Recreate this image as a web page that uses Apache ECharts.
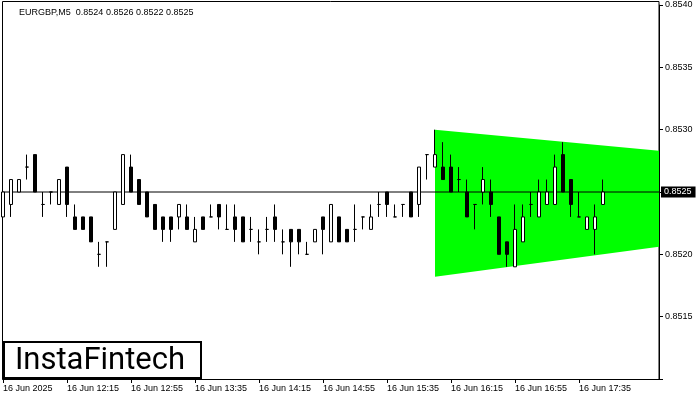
<!DOCTYPE html>
<html>
<head>
<meta charset="utf-8">
<script src="https://cdn.jsdelivr.net/npm/echarts@6/dist/echarts.min.js"></script>
<style>html,body{margin:0;padding:0;background:#fff}#c{width:700px;height:400px}</style>
</head>
<body>
<div id="c"></div>
<script>
const categories = ["11:35","11:40","11:45","11:50","11:55","12:00","12:05","12:10","12:15","12:20","12:25","12:30","12:35","12:40","12:45","12:50","12:55","13:00","13:05","13:10","13:15","13:20","13:25","13:30","13:35","13:40","13:45","13:50","13:55","14:00","14:05","14:10","14:15","14:20","14:25","14:30","14:35","14:40","14:45","14:50","14:55","15:00","15:05","15:10","15:15","15:20","15:25","15:30","15:35","15:40","15:45","15:50","15:55","16:00","16:05","16:10","16:15","16:20","16:25","16:30","16:35","16:40","16:45","16:50","16:55","17:00","17:05","17:10","17:15","17:20","17:25","17:30","17:35","17:40","17:45","17:50","17:55","18:00","18:05","18:10","18:15","18:20","18:25"];
const xTickLabels = ["16 Jun 2025","16 Jun 12:15","16 Jun 12:55","16 Jun 13:35","16 Jun 14:15","16 Jun 14:55","16 Jun 15:35","16 Jun 16:15","16 Jun 16:55","16 Jun 17:35"];
const opens  = [0.8523,0.8524,0.8525,0.8527,0.8528,0.8524,0.8525,0.8524,0.8527,0.8523,0.8523,0.8523,0.8520,0.8521,0.8522,0.8524,0.8527,0.8526,0.8525,0.8524,0.8523,0.8523,0.8523,0.8523,0.8521,0.8523,0.8523,0.8524,0.8522,0.8523,0.8523,0.8522,0.8521,0.8522,0.8523,0.8521,0.8522,0.8522,0.8520,0.8521,0.8523,0.8521,0.8523,0.8522,0.8522,0.8523,0.8522,0.8524,0.8525,0.8523,0.8524,0.8525,0.8524,0.8528,0.8527,0.8527,0.8527,0.8526,0.8525,0.8524,0.8525,0.8525,0.8523,0.8521,0.8519,0.8521,0.8524,0.8523,0.8524,0.8524,0.8528,0.8526,0.8523,0.8522,0.8522,0.8524];
const closes = [0.8525,0.8526,0.8526,0.8527,0.8525,0.8524,0.8525,0.8526,0.8524,0.8522,0.8522,0.8521,0.8520,0.8521,0.8525,0.8528,0.8525,0.8524,0.8523,0.8522,0.8522,0.8522,0.8524,0.8522,0.8522,0.8522,0.8523,0.8523,0.8522,0.8522,0.8521,0.8522,0.8521,0.8522,0.8522,0.8521,0.8521,0.8521,0.8520,0.8522,0.8522,0.8524,0.8521,0.8521,0.8522,0.8523,0.8523,0.8524,0.8524,0.8523,0.8524,0.8523,0.8527,0.8528,0.8528,0.8526,0.8525,0.8526,0.8523,0.8524,0.8526,0.8524,0.8520,0.8520,0.8522,0.8523,0.8524,0.8525,0.8525,0.8527,0.8525,0.8524,0.8523,0.8523,0.8523,0.8525];
const lows   = [0.8523,0.8523,0.8525,0.8526,0.8525,0.8523,0.8524,0.8524,0.8523,0.8522,0.8522,0.8521,0.8519,0.8519,0.8522,0.8524,0.8525,0.8524,0.8523,0.8522,0.8521,0.8521,0.8522,0.8522,0.8521,0.8522,0.8523,0.8522,0.8522,0.8521,0.8521,0.8521,0.8520,0.8521,0.8521,0.8520,0.8519,0.8520,0.8520,0.8521,0.8520,0.8521,0.8521,0.8521,0.8521,0.8522,0.8522,0.8523,0.8523,0.8523,0.8523,0.8523,0.8523,0.8526,0.8527,0.8526,0.8525,0.8525,0.8523,0.8522,0.8524,0.8523,0.8520,0.8519,0.8519,0.8521,0.8523,0.8523,0.8524,0.8524,0.8525,0.8523,0.8523,0.8522,0.8520,0.8524];
const highs  = [0.8525,0.8526,0.8526,0.8528,0.8528,0.8525,0.8525,0.8526,0.8527,0.8524,0.8523,0.8523,0.8521,0.8521,0.8525,0.8528,0.8528,0.8526,0.8525,0.8524,0.8523,0.8523,0.8524,0.8524,0.8523,0.8523,0.8524,0.8524,0.8524,0.8524,0.8523,0.8523,0.8522,0.8523,0.8524,0.8522,0.8522,0.8522,0.8521,0.8522,0.8523,0.8524,0.8523,0.8522,0.8524,0.8523,0.8524,0.8525,0.8525,0.8524,0.8524,0.8525,0.8527,0.8528,0.8530,0.8529,0.8528,0.8527,0.8526,0.8524,0.8527,0.8526,0.8523,0.8521,0.8524,0.8524,0.8525,0.8526,0.8526,0.8528,0.8529,0.8526,0.8525,0.8523,0.8524,0.8526];
const currentPrice = 0.8525;
const priceLineX = [0, 82];
const triangleX = [54, 82];
const triangleTop = [0.8530, 0.85283];
const triangleBottom = [0.85182, 0.85206];

const candleData = opens.map((o, i) => [o, closes[i], lows[i], highs[i]]);
const priceLineData = priceLineX.map(x => [x, currentPrice]);
const FONT = 'Liberation Sans';

const chart = echarts.init(document.getElementById('c'), null, {renderer: 'canvas'});
chart.setOption({
  animation: false,
  backgroundColor: '#fff',
  title: {
    text: 'EURGBP,M5  0.8524 0.8526 0.8522 0.8525',
    left: 14, top: 3,
    textStyle: {fontSize: 9, fontWeight: 'normal', color: '#000', fontFamily: FONT}
  },
  grid: {left: 3, right: 41, top: 5, bottom: 21, containLabel: false},
  xAxis: {
    type: 'category',
    data: categories,
    boundaryGap: false,
    axisLine: {show: true, lineStyle: {color: '#000', width: 1}},
    axisTick: {show: true, length: 4, lineStyle: {color: '#000'},
      interval: (idx) => idx % 8 === 0 && idx <= 72},
    axisLabel: {
      show: true, color: '#000', fontSize: 9, fontFamily: FONT, align: 'left', margin: 5,
      interval: (idx) => idx % 8 === 0 && idx <= 72,
      formatter: (v, idx) => (idx % 8 === 0 && xTickLabels[idx / 8]) ? xTickLabels[idx / 8] : ''
    },
    splitLine: {show: false}
  },
  yAxis: {
    type: 'value',
    position: 'right',
    min: 0.8510, max: 0.8540, interval: 0.0005,
    axisLine: {show: true, lineStyle: {color: '#000', width: 1}},
    axisTick: {show: true, length: 4, lineStyle: {color: '#000'}},
    axisLabel: {
      color: '#000', fontSize: 9, fontFamily: FONT, margin: 6,
      formatter: (v) => (Math.abs(v - 0.8510) < 1e-7 || Math.abs(v - currentPrice) < 1e-7) ? '' : v.toFixed(4)
    },
    splitLine: {show: false}
  },
  graphic: [
    {type: 'rect', z: 0, silent: true,
     shape: {x: 2.5, y: 1.5, width: 656.5, height: 378}, style: {fill: 'none', stroke: '#000', lineWidth: 1}},
    {type: 'group', left: 3, top: 341, z: 100, children: [
      {type: 'rect', shape: {x: 1, y: 1, width: 197, height: 36}, style: {fill: '#fff', stroke: '#000', lineWidth: 2}},
      {type: 'text', x: 97, y: 20, style: {text: 'InstaFintech', fill: '#000', font: '400 31px Roboto', align: 'center', verticalAlign: 'middle'}}
    ]}
  ],
  series: [
    {
      type: 'custom',
      z: 1,
      silent: true,
      data: [[0]],
      renderItem: (params, api) => {
        const pts = [
          api.coord([triangleX[0], triangleTop[0]]),
          api.coord([triangleX[1], triangleTop[1]]),
          api.coord([triangleX[1], triangleBottom[1]]),
          api.coord([triangleX[0], triangleBottom[0]])
        ];
        return {type: 'polygon', shape: {points: pts}, style: {fill: '#00ff00', stroke: null}};
      }
    },
    {
      type: 'line',
      z: 2,
      silent: true,
      data: priceLineData,
      symbol: 'none',
      clip: false,
      lineStyle: {color: '#000', width: 1},
      endLabel: {
        show: true, formatter: currentPrice.toFixed(4), color: '#fff',
        backgroundColor: '#000', padding: [1, 4, 1, 3], fontSize: 9, fontFamily: FONT, distance: 2
      }
    },
    {
      type: 'candlestick',
      z: 3,
      data: candleData,
      barWidth: 4,
      itemStyle: {color: '#fff', color0: '#000', borderColor: '#000', borderColor0: '#000', borderWidth: 1}
    }
  ]
});
</script>
</body>
</html>
